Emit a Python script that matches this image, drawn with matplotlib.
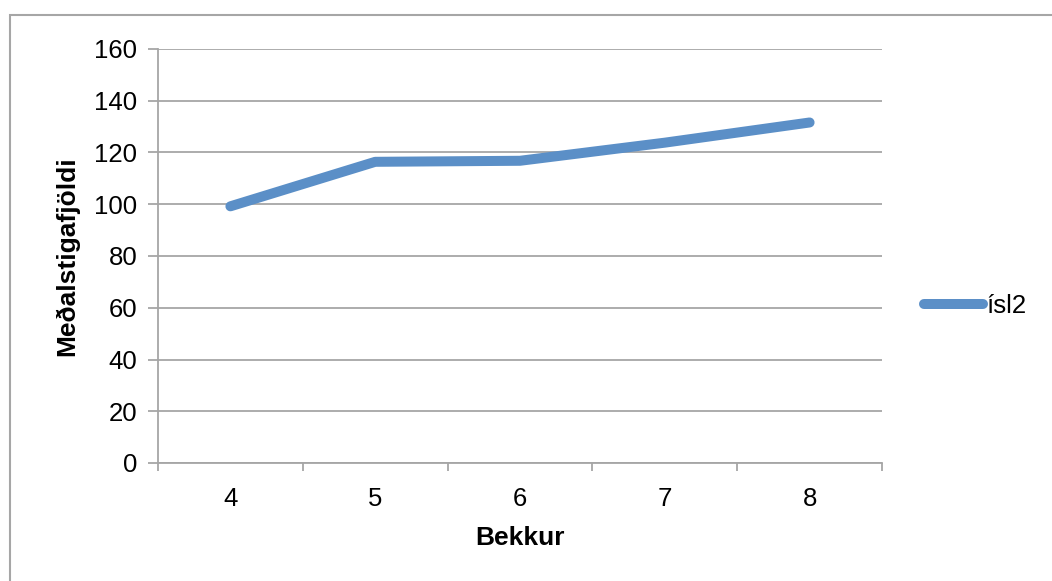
import matplotlib
matplotlib.use("Agg")
import matplotlib.pyplot as plt
import matplotlib.patches as patches
import numpy as np

# average score per grade
bekkur = ['4', '5', '6', '7', '8']
isl2 = [99.2, 116.4, 116.8, 123.8, 131.6]

grid_col = '#a6a6a6'
line_col = '#5b8fc7'

plt.rcParams['font.family'] = ['Liberation Sans', 'DejaVu Sans']

fig = plt.figure(figsize=(10.52, 5.81), dpi=100)
ax = fig.add_axes([158 / 1052, 1 - 463 / 581, (882 - 158) / 1052, (463 - 49) / 581])

x = np.arange(len(bekkur))
ax.plot(x, isl2, color=line_col, lw=7.2, solid_capstyle='round',
        solid_joinstyle='round', label='ísl2', zorder=3)

ax.set_xlim(-0.5, len(bekkur) - 0.5)
ax.set_ylim(0, 160)
ax.set_yticks(np.arange(0, 161, 20))
ax.yaxis.grid(True, color=grid_col, lw=1.3)
ax.set_axisbelow(True)

# category labels sit between the boundary tick marks
ax.set_xticks(x)
ax.set_xticklabels(bekkur)
ax.set_xticks(np.arange(-0.5, len(bekkur), 1), minor=True)
ax.tick_params(axis='x', which='major', length=0, pad=17, labelsize=18.5)
ax.tick_params(axis='x', which='minor', length=6, width=1.3, color=grid_col, direction='out')
ax.tick_params(axis='y', length=7, width=1.3, color=grid_col, direction='out', pad=8, labelsize=18.5)

for side in ['top', 'right']:
    ax.spines[side].set_visible(False)
for side in ['left', 'bottom']:
    ax.spines[side].set_color(grid_col)
    ax.spines[side].set_linewidth(1.3)

ax.set_xlabel('Bekkur', fontsize=19, fontweight='bold', labelpad=11)
ax.set_ylabel('Meðalstigafjöldi', fontsize=19, fontweight='bold', labelpad=11)

ax.legend(loc='center left', bbox_to_anchor=(914 / 1052, 1 - 306 / 581),
          bbox_transform=fig.transFigure, frameon=False, fontsize=18.5,
          handlelength=2.3, handletextpad=0.1, borderaxespad=0)

# chart area border
fig.patches.append(patches.Rectangle((10 / 1052, -0.1), 1.2, 1 - 15 / 581 + 0.1,
                                     transform=fig.transFigure, fill=False,
                                     edgecolor=grid_col, lw=1.5))

fig.savefig('out.png', dpi=100)
